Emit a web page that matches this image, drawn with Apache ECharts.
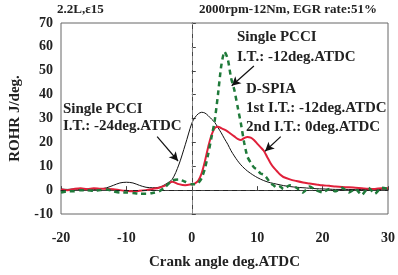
<!DOCTYPE html>
<html>
<head>
<meta charset="utf-8">
<script src="https://cdn.jsdelivr.net/npm/echarts@6/dist/echarts.min.js"></script>
<style>
  html, body { margin: 0; padding: 0; background: #fff; }
  #chart { width: 398px; height: 275px; }
</style>
</head>
<body>
<div id="chart"></div>
<script>
// crank angle, deg.ATDC
const angle = [-20, -19, -18, -17, -16, -15, -14, -13, -12, -11, -10, -9, -8, -7, -6, -5, -4, -3, -2, -1,
  0, 0.5, 1, 1.5, 2, 2.5, 3, 3.5, 4, 4.5, 5, 5.5, 6, 6.5, 7, 7.5, 8, 8.5, 9, 9.5, 10, 10.5, 11, 11.5, 12, 12.5, 13, 13.5, 14,
  15, 16, 17, 18, 19, 20, 21, 22, 23, 24, 25, 26, 27, 28, 29, 30]

// Single PCCI, I.T. -24deg.ATDC (black)
const pcci24 = [0.5, 0.3, 0.5, 0.2, 0.5, 0.3, 0.5, 1, 2, 3, 3.3, 3, 2, 1.2, 1, 1.2, 2.5, 4.5, 10.5, 19,
  28, 30.5, 32, 32.6, 32.3, 31.2, 29.8, 28.4, 26.2, 24, 21.5, 19.2, 16.5, 14.3, 12.3, 10.6, 9.2, 8, 7, 6.1, 5.3, 4.6, 4, 3.5, 3.1, 2.8, 2.5, 2.2, 1.9,
  1.5, 1.2, 1, 0.8, 0.6, 0.5, 0.4, 0.3, 0.3, 0.3, 0.2, 0.3, 0.3, 0.2, 0.3, 0.3]

// D-SPIA (red)
const dspia = [0.3, 0, 0.5, 0.8, 0.4, 0.8, 0.6, 0.5, 0.4, 0, -0.3, -0.5, -0.3, 0, 0.5, 1, 2, 3.5, 2.5, 2,
  2.5, 2.8, 4, 7, 12, 18, 23, 26, 26.5, 26, 25.3, 24.5, 23.5, 22.5, 21.5, 21, 21.8, 22.3, 22, 21, 19.5, 18, 16.5, 14, 11.5, 9.5, 8, 6.5, 5.5,
  4.5, 3.8, 3.2, 2.8, 2.4, 2, 1.8, 1.5, 1.3, 1.2, 1, 0.8, 0.6, 0.5, 0.8, 0.8]

// Single PCCI, I.T. -12deg.ATDC (green dashed)
const pcci12 = [-1, -0.5, -0.5, 0, 0, -0.3, 0, 0.3, -0.5, -1, -1, -1.2, -1.5, -1.5, -1.2, -0.5, 1.5, 4, 4.5, 3.5,
  2.5, 2.5, 3, 5, 9, 15, 22, 29, 40, 52, 58, 55, 47, 42, 35, 28, 20, 14, 11.5, 9.5, 8.5, 7, 6.5, 5, 3, 2, 1, 1.5, 0.5,
  2, 1, -1, 1.5, 0, -1, 0.5, -0.5, 1, -1, 0.5, -2, 1, -1.5, 1, 0.5]

const serif = 'Liberation Serif'

function pairs(ys) {
  return angle.map((x, i) => [x, ys[i]])
}

const arrowStyle = { color: '#111', width: 1.2, type: 'solid' }
function arrow(x1, y1, x2, y2) {
  return [
    { coord: [x1, y1], symbol: 'none', lineStyle: arrowStyle },
    { coord: [x2, y2], symbol: 'arrow', symbolSize: [7, 9], lineStyle: arrowStyle }
  ]
}

const chart = echarts.init(document.getElementById('chart'))
chart.setOption({
  animation: false,
  textStyle: { fontFamily: serif },
  grid: { left: 51, right: 8, top: 23, bottom: 56, show: true, borderColor: '#666', borderWidth: 1 },
  xAxis: {
    type: 'value', min: -20, max: 30, interval: 10,
    name: 'Crank angle deg.ATDC', nameLocation: 'middle', nameGap: 41,
    nameTextStyle: { fontFamily: serif, fontWeight: 'bold', fontSize: 15, color: '#222' },
    axisLine: { lineStyle: { color: '#444' } },
    axisTick: { inside: true, length: 4, lineStyle: { color: '#444' } },
    axisLabel: { fontFamily: serif, fontWeight: 'bold', fontSize: 14, color: '#222', margin: 17 },
    splitLine: { show: false }
  },
  yAxis: {
    type: 'value', min: -10, max: 70, interval: 10,
    name: 'ROHR J/deg.', nameLocation: 'middle', nameGap: 38,
    nameTextStyle: { fontFamily: serif, fontWeight: 'bold', fontSize: 15, color: '#222' },
    axisLine: { lineStyle: { color: '#444' } },
    axisTick: { inside: true, length: 4, lineStyle: { color: '#444' } },
    axisLabel: { fontFamily: serif, fontWeight: 'bold', fontSize: 14, color: '#222', margin: 8 },
    splitLine: { show: false }
  },
  series: [
    {
      name: 'Single PCCI -24', type: 'line', data: pairs(pcci24), showSymbol: false, smooth: 0.3,
      lineStyle: { color: '#111', width: 1 }, z: 3,
      markLine: {
        silent: true, symbol: 'none', label: { show: false },
        data: [
          { yAxis: 0, lineStyle: { color: '#222', type: [5, 4], width: 1 } },
          { xAxis: 0, lineStyle: { color: '#888', type: [5, 4], width: 1 } },
          arrow(-5.3, 22.4, -2.1, 12.2),
          arrow(9.5, 52, 6.1, 43.7),
          arrow(13.6, 22.4, 11.2, 16.3)
        ]
      }
    },
    {
      name: 'D-SPIA', type: 'line', data: pairs(dspia), showSymbol: false, smooth: 0.3,
      lineStyle: { color: '#e0203a', width: 2 }, z: 4
    },
    {
      name: 'Single PCCI -12', type: 'line', data: pairs(pcci12), showSymbol: false, smooth: 0.2,
      lineStyle: { color: '#1f7a3a', width: 2.5, type: [5, 4] }, z: 5
    }
  ],
  graphic: [
    { type: 'text', left: 57, top: 3, style: { text: '2.2L,ε15', font: 'bold 13px "Liberation Serif"', fill: '#222' } },
    { type: 'text', left: 199, top: 3, style: { text: '2000rpm-12Nm, EGR rate:51%', font: 'bold 13px "Liberation Serif"', fill: '#222' } },
    { type: 'text', left: 63, top: 101, style: { text: 'Single PCCI\nI.T.: -24deg.ATDC', font: 'bold 15px "Liberation Serif"', lineHeight: 17, fill: '#222' } },
    { type: 'text', left: 237, top: 27, style: { text: 'Single PCCI\nI.T.: -12deg.ATDC', font: 'bold 15px "Liberation Serif"', lineHeight: 20, fill: '#222' } },
    { type: 'text', left: 246, top: 80, style: { text: 'D-SPIA\n1st I.T.: -12deg.ATDC\n2nd I.T.: 0deg.ATDC', font: 'bold 15px "Liberation Serif"', lineHeight: 19, fill: '#222' } }
  ]
})
</script>
</body>
</html>
